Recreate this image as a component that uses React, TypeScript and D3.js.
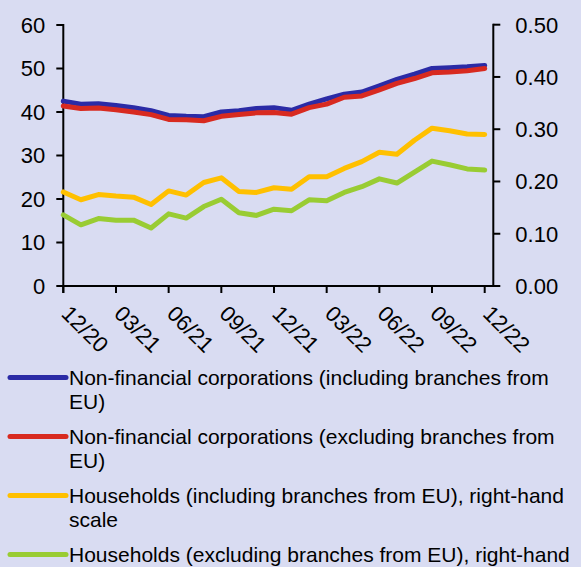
import React from "react";
import * as d3 from "d3";

const months = [
  "12/20","01/21","02/21","03/21","04/21","05/21","06/21","07/21","08/21","09/21","10/21","11/21",
  "12/21","01/22","02/22","03/22","04/22","05/22","06/22","07/22","08/22","09/22","10/22","11/22","12/22",
];
const tickLabels = ["12/20","03/21","06/21","09/21","12/21","03/22","06/22","09/22","12/22"];
const leftTicks = [0, 10, 20, 30, 40, 50, 60];
const rightTicks = [0, 0.1, 0.2, 0.3, 0.4, 0.5];

const nfcIncl = [42.5,41.8,41.9,41.5,41.0,40.3,39.2,39.0,38.9,40.0,40.3,40.8,41.0,40.4,41.8,43.0,44.1,44.6,46.0,47.5,48.7,50.0,50.2,50.4,50.7];
const nfcExcl = [41.4,40.8,40.9,40.5,40.0,39.4,38.3,38.2,38.0,39.0,39.4,39.8,39.9,39.5,41.0,41.8,43.4,43.7,45.1,46.6,47.7,49.0,49.2,49.5,50.0];
const hhIncl = [0.180,0.165,0.175,0.172,0.170,0.156,0.182,0.174,0.198,0.207,0.181,0.179,0.188,0.185,0.209,0.209,0.225,0.238,0.256,0.252,0.279,0.302,0.297,0.291,0.290];
const hhExcl = [0.136,0.117,0.129,0.126,0.126,0.111,0.138,0.130,0.152,0.166,0.140,0.135,0.147,0.144,0.165,0.163,0.179,0.190,0.205,0.197,0.218,0.239,0.232,0.224,0.222];

const legendItems = [
  { lines: ["Non-financial corporations (including branches from", "EU)"], color: "#2b2ba6" },
  { lines: ["Non-financial corporations (excluding branches from", "EU)"], color: "#d82a20" },
  { lines: ["Households (including branches from EU), right-hand", "scale"], color: "#ffc000" },
  { lines: ["Households (excluding branches from EU), right-hand", "scale"], color: "#99cc33" },
];

const W = 581, H = 567;
const FONT = "'Liberation Sans', Arial, sans-serif";

export default function App() {
  const x = d3.scaleLinear().domain([0, months.length - 1]).range([63.3, 484.7]);
  const yL = d3.scaleLinear().domain([0, 60]).range([286, 25]);
  const yR = d3.scaleLinear().domain([0, 0.5]).range([286, 24.7]);
  const lineL = d3.line<number>().x((_, i) => x(i)).y((d) => yL(d));
  const lineR = d3.line<number>().x((_, i) => x(i)).y((d) => yR(d));
  const series = [
    { d: lineL(nfcIncl), c: legendItems[0].color },
    { d: lineL(nfcExcl), c: legendItems[1].color },
    { d: lineR(hhIncl), c: legendItems[2].color },
    { d: lineR(hhExcl), c: legendItems[3].color },
  ];
  const axL = 63.3, axR = 493.3, axB = 286;
  return (
    <svg width={W} height={H} style={{ position: "absolute", left: 0, top: 0 }} fontFamily={FONT}>
      <rect x={0} y={0} width={W} height={H} fill="#d9dcf2" />
      {/* axes */}
      <g stroke="#000" strokeWidth={2} fill="none">
        <line x1={axL} y1={yL(60) - 1} x2={axL} y2={axB + 7} />
        <line x1={axR} y1={yR(0.5) - 1} x2={axR} y2={axB + 1} />
        <line x1={axL} y1={axB} x2={axR} y2={axB} />
        {leftTicks.map((t) => (
          <line key={t} x1={axL - 7} x2={axL} y1={yL(t)} y2={yL(t)} />
        ))}
        {rightTicks.map((t) => (
          <line key={t} x1={axR} x2={axR + 7} y1={yR(t)} y2={yR(t)} />
        ))}
        {tickLabels.map((lab) => {
          const i = months.indexOf(lab);
          return <line key={lab} x1={x(i)} x2={x(i)} y1={axB} y2={axB + 7} />;
        })}
      </g>
      {leftTicks.map((t) => (
        <text key={t} x={axL - 18} y={yL(t)} dy="0.36em" textAnchor="end" fontSize={22} fill="#000">
          {t}
        </text>
      ))}
      {rightTicks.map((t) => (
        <text key={t} x={axR + 22} y={yR(t)} dy="0.36em" textAnchor="start" fontSize={22} fill="#000">
          {t.toFixed(2)}
        </text>
      ))}
      {tickLabels.map((lab) => {
        const i = months.indexOf(lab);
        return (
          <text key={lab} transform={`translate(${x(i) - 3},${axB + 29}) rotate(45)`} fontSize={22} fill="#000">
            {lab}
          </text>
        );
      })}
      {/* series */}
      {series.map((s, k) => (
        <path key={k} d={s.d || ""} fill="none" stroke={s.c} strokeWidth={5} strokeLinejoin="round" strokeLinecap="round" />
      ))}
      {/* legend (lines that fall below the visible area are not drawn, as in the reference) */}
      {legendItems.map((it, k) => {
        const cy = 377.5 + k * 59;
        return (
          <g key={k}>
            <line x1={10} x2={66} y1={cy} y2={cy} stroke={it.color} strokeWidth={5} strokeLinecap="round" />
            {it.lines.map((ln, j) => {
              const ty = cy + j * 23.5;
              if (ty > H - 8) return null;
              return (
                <text key={j} x={69} y={ty} dy="0.36em" fontSize={21} fill="#000">
                  {ln}
                </text>
              );
            })}
          </g>
        );
      })}
    </svg>
  );
}
